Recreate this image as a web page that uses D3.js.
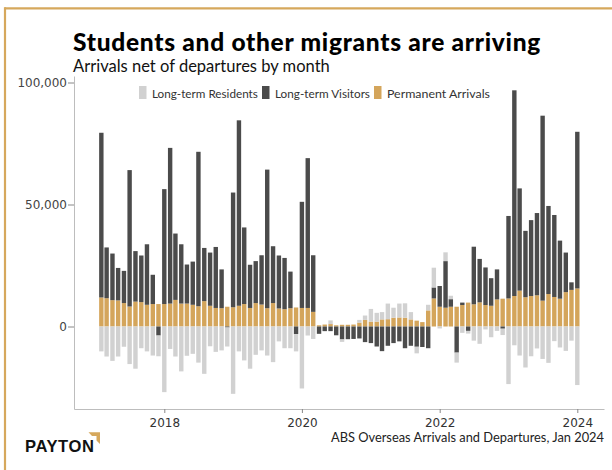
<!DOCTYPE html>
<html>
<head>
<meta charset="utf-8">
<script src="https://cdn.jsdelivr.net/npm/d3@7"></script>
<style>
  html, body { margin: 0; padding: 0; background: #fff; }
  svg { display: block; }
</style>
</head>
<body>
<svg id="chart" width="612" height="470"></svg>
<script>
// Monthly net overseas arrivals (arrivals minus departures), Feb 2017 – Jan 2024
const months = d3.timeMonth.range(new Date(2017, 1, 1), new Date(2024, 1, 2));

const permanent = [
  11900, 11600, 10800, 10700, 9600, 8200, 10200, 10000, 8900, 9200, 9200,
  9200, 9400, 10900, 9400, 9400, 8900, 8300, 10400, 8500, 7600, 7500, 8100,
  7900, 8500, 9200, 7600, 9600, 9000, 7500, 9600, 7400, 7100, 7500, 7800,
  7600, 7600, 6000, 500, 800, 1000, 500, 700, 700, 800, 1600, 2700,
  2000, 2000, 2900, 3000, 3600, 3700, 3600, 2900, 2400, 1800, 6600, 11500,
  8100, 7700, 8100, 8100, 8800, 9800, 9100, 9900, 8800, 8500, 11100, 11400,
  11500, 12500, 14700, 12000, 12500, 12800, 10600, 13300, 12100, 11400, 14100, 15000,
  15600
];

const visitors = [
  67500, 20800, 19100, 13300, 13200, 55900, 20700, 19100, 24800, 12000, -3700,
  47100, 63800, 27200, 24300, 16000, 17700, 63300, 21800, 21800, 25000, 15900, -400,
  47000, 76000, 31400, 17700, 17200, 20200, 56800, 23300, 21700, 21000, 15000, -3100,
  43500, 61400, 23200, -3000, -1900, -1900, -3600, -5300, -5200, -5100, -4900, -6400,
  -6800, -8200, -10100, -7900, -6800, -6100, -8900, -7900, -8300, -8400, -8900, 4500,
  8500, 19100, 3100, -10700, 1000, -1800, 23600, 17800, 15400, 11300, 12300, -900,
  33800, 84300, 41900, 27200, 31100, 33700, 75800, 36100, 33600, 23800, 16200, 3100,
  64200
];

const residents = [
  -10200, -12300, -14100, -12300, -8300, -15400, -17300, -8900, -10200, -11900, -8500,
  -26900, -9200, -12300, -18400, -12000, -11200, -14800, -19400, -8100, -10400, -9800, -7800,
  -27600, -10200, -13900, -17300, -11600, -9800, -11900, -14600, -6100, -8900, -8900, -7100,
  -25400, -3700, -5100, 0, 0, 1500, 0, -1000, 0, 0, 1100, 1800,
  5200, 3600, 3000, 6400, 4100, 5700, 5900, 3000, -2700, 0, 2300, 8100,
  -800, 3600, 1400, -4100, -2600, -1100, -5800, -7100, -1200, -4400, -1800, -2600,
  -23600, -7700, -11900, -16800, -12200, -9000, -13300, -14900, -6000, -8600, -10000, -5800,
  -24000
];

const seriesKeys   = ["permanent", "visitors", "residents"];
const legendLabels = ["Long-term Residents", "Long-term Visitors", "Permanent Arrivals"];
const legendKeys   = ["residents", "visitors", "permanent"];
const yTicks = [0, 50000, 100000];
const xTickYears = [2018, 2020, 2022, 2024];

const colors = {
  residents: "#d1d1d1",
  visitors: "#4b4b4b",
  permanent: "#d4a55b"
};
const gold = "#d6a85c";

const rows = months.map((m, i) => ({
  date: m,
  permanent: permanent[i],
  visitors: visitors[i],
  residents: residents[i]
}));

const svg = d3.select("#chart");

// Frame lines along the top and left edge
svg.append("line").attr("x1", 4.5).attr("x2", 612).attr("y1", 8.3).attr("y2", 8.3)
  .attr("stroke", gold).attr("stroke-width", 2.2);
svg.append("line").attr("x1", 5).attr("x2", 5).attr("y1", 7.2).attr("y2", 470)
  .attr("stroke", gold).attr("stroke-width", 2.2);

// Scales: anchored on year ticks and zero / 100k gridline positions
const x = d3.scaleTime()
  .domain([new Date(2018, 0, 1), new Date(2024, 0, 1)])
  .range([164.3, 577.3]);
x.domain([x.invert(74), x.invert(604)]).range([74, 604]);

const y = d3.scaleLinear().domain([0, 100000]).range([326.5, 82.5]);
y.domain([y.invert(409), y.invert(76)]).range([409, 76]);

const stack = d3.stack().keys(seriesKeys).offset(d3.stackOffsetDiverging);
const stacked = stack(rows);

const barW = 4.4;

svg.append("g")
  .selectAll("g")
  .data(stacked)
  .join("g")
  .attr("fill", d => colors[d.key])
  .selectAll("rect")
  .data(d => d)
  .join("rect")
  .attr("x", d => x(d.data.date) - barW / 2)
  .attr("width", barW)
  .attr("y", d => y(Math.max(d[0], d[1])))
  .attr("height", d => Math.abs(y(d[0]) - y(d[1])));

// Axes
const axisColor = "#bdbdbd";
const tickFont = "'DejaVu Sans', Verdana, sans-serif";

const yAxis = svg.append("g")
  .attr("transform", "translate(74,0)")
  .call(d3.axisLeft(y).tickValues(yTicks).tickFormat(d3.format(",")).tickSize(6).tickSizeOuter(0).tickPadding(1));
yAxis.select(".domain").attr("stroke", axisColor);
yAxis.selectAll(".tick line").attr("stroke", "#888");
yAxis.selectAll(".tick text").attr("fill", "#444").style("font-family", tickFont).style("font-size", "12px");

const xAxis = svg.append("g")
  .attr("transform", "translate(0,409)")
  .call(d3.axisBottom(x)
    .tickValues(xTickYears.map(yr => new Date(yr, 0, 1)))
    .tickFormat(d3.timeFormat("%Y"))
    .tickSize(4).tickSizeOuter(0).tickPadding(5));
xAxis.select(".domain").attr("stroke", axisColor);
xAxis.selectAll(".tick line").attr("stroke", "#888");
xAxis.selectAll(".tick text").attr("fill", "#333").style("font-family", tickFont).style("font-size", "12px");

// Fit a text element to a given width: font size first, then letter spacing
function fitText(sel, width, maxSize) {
  const node = sel.node();
  const fs = parseFloat(sel.style("font-size"));
  const w = node.getComputedTextLength();
  let size = fs * width / w;
  if (maxSize && size > maxSize) size = maxSize;
  sel.style("font-size", size + "px");
  const n = sel.text().length;
  const w2 = node.getComputedTextLength();
  if (n > 1 && Math.abs(width - w2) > 0.5) {
    sel.style("letter-spacing", ((width - w2) / n) + "px");
  }
  return sel;
}

const headFont = "Lato, 'Open Sans', sans-serif";

// Title and subtitle
const title = svg.append("text")
  .attr("x", 73).attr("y", 51)
  .style("font-family", headFont).style("font-weight", 900).style("font-size", "24px")
  .attr("fill", "#000")
  .text("Students and other migrants are arriving");
fitText(title, 468, 24.5);

const subtitle = svg.append("text")
  .attr("x", 73).attr("y", 71.5)
  .style("font-family", headFont).style("font-weight", 400).style("font-size", "16px")
  .attr("fill", "#111")
  .text("Arrivals net of departures by month");
fitText(subtitle, 257);

// Legend
const legendX = [139, 262, 374];
const legendW = [106, 95, 103];
const legend = svg.append("g");
legendKeys.forEach((k, i) => {
  legend.append("rect")
    .attr("x", legendX[i]).attr("y", 86).attr("width", 7.5).attr("height", 13)
    .attr("fill", colors[k]);
  const t = legend.append("text")
    .attr("x", legendX[i] + 13).attr("y", 97.5)
    .style("font-family", headFont).style("font-size", "13px")
    .attr("fill", "#333")
    .text(legendLabels[i]);
  fitText(t, legendW[i]);
});

// Source note
const source = svg.append("text")
  .attr("x", 604).attr("y", 442)
  .attr("text-anchor", "end")
  .style("font-family", headFont).style("font-size", "14px")
  .attr("fill", "#222")
  .text("ABS Overseas Arrivals and Departures, Jan 2024");
fitText(source, 273);

// Brand mark
const brand = svg.append("text")
  .attr("x", 25).attr("y", 452)
  .style("font-family", "'Liberation Sans', Arial, sans-serif")
  .style("font-weight", 700).style("font-size", "15px")
  .style("letter-spacing", "0.6px")
  .attr("fill", "#111")
  .text("PAYTON");
fitText(brand, 70);

svg.append("path")
  .attr("d", "M88.5,432.3 L100,432.3 L100,444 L96.5,440.5 L96.5,436 L92,436 Z")
  .attr("fill", gold);
</script>
</body>
</html>
